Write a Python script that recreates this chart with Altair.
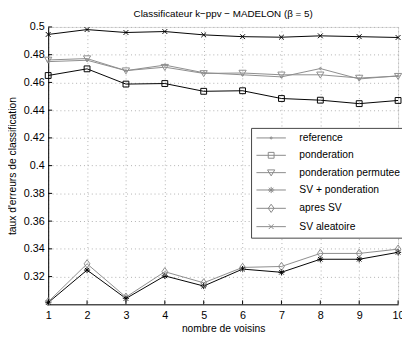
import altair as alt
import pandas as pd

k = [1, 2, 3, 4, 5, 6, 7, 8, 9, 10]
series_names = ["reference", "ponderation", "ponderation permutee",
                "SV + ponderation", "apres SV", "SV aleatoire"]
reference = [0.475, 0.476, 0.4685, 0.4725, 0.467, 0.4655, 0.464, 0.470, 0.4625, 0.4648]
ponderation = [0.465, 0.4698, 0.4588, 0.4592, 0.4536, 0.454, 0.4484, 0.4472, 0.4447, 0.447]
permutee = [0.4762, 0.4772, 0.4685, 0.471, 0.4665, 0.4668, 0.4655, 0.4655, 0.4632, 0.4645]
sv_pond = [0.3012, 0.3247, 0.3042, 0.3205, 0.3132, 0.3254, 0.3231, 0.3325, 0.3325, 0.3375]
apres_sv = [0.3018, 0.3292, 0.3052, 0.3235, 0.3155, 0.3266, 0.3273, 0.3367, 0.3367, 0.3398]
sv_alea = [0.4946, 0.4981, 0.4960, 0.4967, 0.4943, 0.4930, 0.4926, 0.4936, 0.4930, 0.4924]
values = [reference, ponderation, permutee, sv_pond, apres_sv, sv_alea]

colors = ["#8c8c8c", "#000000", "#8c8c8c", "#000000", "#8c8c8c", "#000000"]

markers = [
    "M-0.3,0A0.3,0.3 0 1,0 0.3,0A0.3,0.3 0 1,0 -0.3,0Z",
    "M-0.85,-0.85H0.85V0.85H-0.85Z",
    "M-1.05,-0.8H1.05L0,0.95Z",
    "M-0.9,0H0.9M0,-0.9V0.9M-0.65,-0.65L0.65,0.65M-0.65,0.65L0.65,-0.65",
    "M0,-1.2L0.85,0L0,1.2L-0.85,0Z",
    "M-0.7,-0.7L0.7,0.7M-0.7,0.7L0.7,-0.7",
]
legend_markers = ["M-4.29,0H4.29" + m for m in markers]

x_ticks = k
y_ticks = [0.32, 0.34, 0.36, 0.38, 0.40, 0.42, 0.44, 0.46, 0.48, 0.50]

rows = []
for name, vals in zip(series_names, values):
    for kk, v in zip(k, vals):
        rows.append({"k": kk, "v": v, "series": name})
df = pd.DataFrame(rows)

W, H = 357, 283
FONT = "Liberation Sans"

xscale = alt.Scale(domain=[1, 10], nice=False, zero=False)
yscale = alt.Scale(domain=[0.30, 0.50], nice=False, zero=False)

xaxis = alt.Axis(values=x_ticks, format="d", title="nombre de voisins",
                 grid=True, gridColor="#b0b0b0", gridDash=[1, 3], gridWidth=1,
                 tickSize=0, labelPadding=5, labelFontSize=11, labelFont=FONT,
                 labelColor="#000", titleFont=FONT, titleFontSize=10.5,
                 titleFontWeight="normal", titleColor="#000", titlePadding=4,
                 domainColor="#000", labelFlush=False, labelOverlap=False,
                 labelBound=False)
yaxis = alt.Axis(values=y_ticks, format=".2~f", title="taux d'erreurs de classification",
                 grid=True, gridColor="#b0b0b0", gridDash=[1, 3], gridWidth=1,
                 tickSize=0, labelPadding=4, labelFontSize=11, labelFont=FONT,
                 labelColor="#000", titleFont=FONT, titleFontSize=10.5,
                 titleFontWeight="normal", titleColor="#000", titlePadding=6,
                 domainColor="#000", labelOverlap=False, labelFlush=False,
                 labelBound=False)

color_scale = alt.Scale(domain=series_names, range=colors)
shape_scale = alt.Scale(domain=series_names, range=markers)

base = alt.Chart(df)

X = alt.X("k:Q", scale=xscale, axis=xaxis, title="nombre de voisins")
Y = alt.Y("v:Q", scale=yscale, axis=yaxis, title="taux d'erreurs de classification")

lines = base.mark_line(strokeWidth=1).encode(
    x=X, y=Y,
    color=alt.Color("series:N", scale=color_scale, legend=None),
    detail="series:N",
)

points = base.mark_point(filled=False, size=49, strokeWidth=1, opacity=1).encode(
    x=X, y=Y,
    color=alt.Color("series:N", scale=color_scale, legend=None),
    shape=alt.Shape("series:N", scale=shape_scale, legend=None),
)

leg = alt.Legend(title=None, orient="none", legendX=207, legendY=103,
                 padding=5, strokeColor="#444", fillColor="#ffffff",
                 labelFont=FONT, labelFontSize=10.5, labelColor="#000",
                 rowPadding=6.7, symbolOffset=10.25, labelOffset=23.5,
                 symbolOpacity=1, symbolSize=49, symbolStrokeWidth=1,
                 symbolFillColor="transparent", labelLimit=300)

legend_layer = base.mark_point(filled=False, size=49, opacity=0).encode(
    x=X, y=Y,
    stroke=alt.Stroke("series:N", scale=alt.Scale(domain=series_names, range=colors), legend=leg),
    shape=alt.Shape("series:N", scale=alt.Scale(domain=series_names, range=legend_markers), legend=leg),
)

ytick_df = pd.DataFrame({"v": y_ticks})
xtick_df = pd.DataFrame({"k": x_ticks})

yticks = alt.Chart(ytick_df).mark_rule(color="#000", strokeWidth=1).encode(
    y=Y,
    x=alt.value(0), x2=alt.value(4),
)
xticks = alt.Chart(xtick_df).mark_rule(color="#000", strokeWidth=1).encode(
    x=X,
    y=alt.value(H), y2=alt.value(H - 4),
)

chart = alt.layer(lines, points, legend_layer, yticks, xticks).resolve_scale(
    shape="independent"
).properties(
    width=W, height=H,
    title=alt.TitleParams("Classificateur k\u2212ppv \u2212 MADELON (\u03b2 = 5)",
                          font=FONT, fontSize=10, fontWeight="normal",
                          color="#000", offset=2, anchor="middle"),
    autosize=alt.AutoSizeParams(type="none"),
    padding={"left": 41, "top": 16, "right": 4, "bottom": 30},
).configure_view(stroke=None).configure(background="#ffffff")

chart.save("out.html", embed_options={"renderer": "svg", "actions": False})
